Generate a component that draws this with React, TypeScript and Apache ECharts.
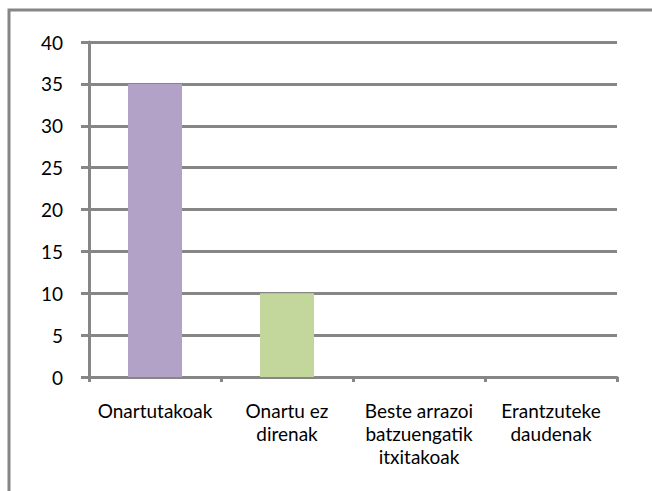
import React, { useEffect, useRef } from "react";
import * as echarts from "echarts";

const categories = [
  "Onartutakoak",
  "Onartu ez\ndirenak",
  "Beste arrazoi\nbatzuengatik\nitxitakoak",
  "Erantzuteke\ndaudenak",
];
const values = [35, 10, 0, 0];
const barColors = ["#B3A2C7", "#C3D69B", "#8EB4E3", "#FAC090"];
const yTicks = { min: 0, max: 40, interval: 5 };

const GRAY = "#868686";
const FONT = "Lato, 'Open Sans', sans-serif";

export default function App() {
  const ref = useRef<HTMLDivElement>(null);
  useEffect(() => {
    if (!ref.current) return;
    const chart = echarts.init(ref.current, undefined, { renderer: "svg" });
    chart.setOption({
      animation: false,
      backgroundColor: "#ffffff",
      grid: { left: 89, right: 35, top: 42, bottom: 114, containLabel: false },
      graphic: [
        {
          type: "rect",
          shape: { x: 9, y: 10, width: 700, height: 600 },
          style: { fill: "none", stroke: GRAY, lineWidth: 3 },
          silent: true,
        },
      ],
      xAxis: {
        type: "category",
        data: categories,
        axisLine: { show: true, lineStyle: { color: GRAY, width: 3 } },
        axisTick: { show: true, length: 5, inside: false, lineStyle: { color: GRAY, width: 3 } },
        axisLabel: {
          interval: 0,
          margin: 22,
          color: "#000",
          fontFamily: FONT,
          fontSize: 19,
          lineHeight: 23,
          align: "center",
        },
      },
      yAxis: {
        type: "value",
        min: yTicks.min,
        max: yTicks.max,
        interval: yTicks.interval,
        axisLine: { show: true, lineStyle: { color: GRAY, width: 3 } },
        axisTick: { show: true, length: 8, lineStyle: { color: GRAY, width: 3 } },
        splitLine: { show: true, lineStyle: { color: GRAY, width: 3 } },
        axisLabel: { margin: 26, color: "#000", fontFamily: FONT, fontSize: 19 },
      },
      series: [
        {
          type: "bar",
          barWidth: 54,
          data: values.map((v, i) => ({ value: v, itemStyle: { color: barColors[i] } })),
        },
      ],
    });
    return () => chart.dispose();
  }, []);
  return (
    <div
      ref={ref}
      style={{ position: "fixed", left: 0, top: 0, width: 652, height: 491 }}
    />
  );
}
